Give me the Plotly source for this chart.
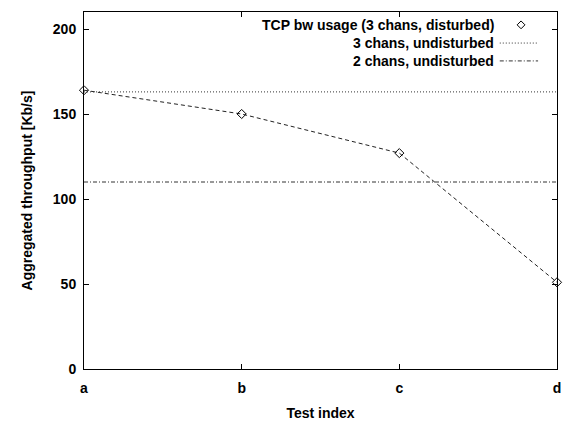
import plotly.graph_objects as go

# data
tests = ["a", "b", "c", "d"]
tcp_disturbed = [164, 150, 127, 51]
three_chans_undisturbed = [163, 163, 163, 163]
two_chans_undisturbed = [110, 110, 110, 110]

series_names = [
    "TCP bw usage (3 chans, disturbed)",
    "3 chans, undisturbed",
    "2 chans, undisturbed",
]

FONT = "Liberation Sans, Arial, sans-serif"

fig = go.Figure()

fig.add_trace(
    go.Scatter(
        x=tests,
        y=tcp_disturbed,
        mode="lines+markers",
        line=dict(color="#222", width=1, dash="4px,3px"),
        marker=dict(symbol="diamond-open", size=7, color="black", line=dict(width=1)),
        cliponaxis=False,
        name=series_names[0],
    )
)
fig.add_trace(
    go.Scatter(
        x=tests,
        y=three_chans_undisturbed,
        mode="lines",
        line=dict(color="#333", width=1, dash="1px,2px"),
        name=series_names[1],
    )
)
fig.add_trace(
    go.Scatter(
        x=tests,
        y=two_chans_undisturbed,
        mode="lines",
        line=dict(color="#333", width=1, dash="4px,2px,1px,2px"),
        name=series_names[2],
    )
)

# gnuplot style key: right aligned text with the sample on the right
key_y = [0.964, 0.913, 0.863]
for name, ky in zip(series_names, key_y):
    fig.add_annotation(
        x=0.870, y=ky, xref="paper", yref="paper",
        text=f"<b>{name}</b>", showarrow=False,
        xanchor="right", yanchor="middle",
        font=dict(family=FONT, size=14, color="black"),
    )
fig.add_trace(
    go.Scatter(
        x=[0.924], y=[key_y[0]], xaxis="x2", yaxis="y2", mode="markers",
        marker=dict(symbol="diamond-open", size=6, color="black", line=dict(width=1)),
        showlegend=False, hoverinfo="skip",
    )
)
fig.add_trace(
    go.Scatter(
        x=[0.879, 0.960], y=[key_y[1]] * 2, xaxis="x2", yaxis="y2", mode="lines",
        line=dict(color="#333", width=1, dash="1px,2px"),
        showlegend=False, hoverinfo="skip",
    )
)
fig.add_trace(
    go.Scatter(
        x=[0.879, 0.960], y=[key_y[2]] * 2, xaxis="x2", yaxis="y2", mode="lines",
        line=dict(color="#333", width=1, dash="4px,2px,1px,2px"),
        showlegend=False, hoverinfo="skip",
    )
)

axis_common = dict(
    showgrid=False,
    zeroline=False,
    showline=True,
    linecolor="black",
    linewidth=1,
    mirror="ticks",
    ticks="inside",
    ticklen=5,
    tickcolor="black",
    automargin=False,
    tickfont=dict(family=FONT, size=14, color="black"),
)

fig.update_layout(
    width=563,
    height=421,
    margin=dict(l=84, r=6, t=12, b=52),
    paper_bgcolor="white",
    plot_bgcolor="white",
    showlegend=False,
    font=dict(family=FONT, size=14, color="black"),
    xaxis=dict(
        **axis_common,
        type="category",
        range=[0, 3],
        tickvals=tests,
        ticktext=[f"<b>{t}</b>" for t in tests],
        ticklabelstandoff=6,
        title=dict(text="<b>Test index</b>", standoff=14, font=dict(size=14)),
    ),
    yaxis=dict(
        **axis_common,
        range=[0, 210],
        tickvals=[0, 50, 100, 150, 200],
        ticktext=["<b>0</b>", "<b>50</b>", "<b>100</b>", "<b>150</b>", "<b>200</b>"],
        ticklabelstandoff=4,
        title=dict(text="<b>Aggregated throughput [Kb/s]</b>", standoff=16, font=dict(size=14)),
    ),
    xaxis2=dict(overlaying="x", range=[0, 1], visible=False),
    yaxis2=dict(overlaying="y", range=[0, 1], visible=False),
)

fig.write_html(
    "out.html",
    config={"displayModeBar": False},
    post_script="document.body.style.margin='0';",
)
